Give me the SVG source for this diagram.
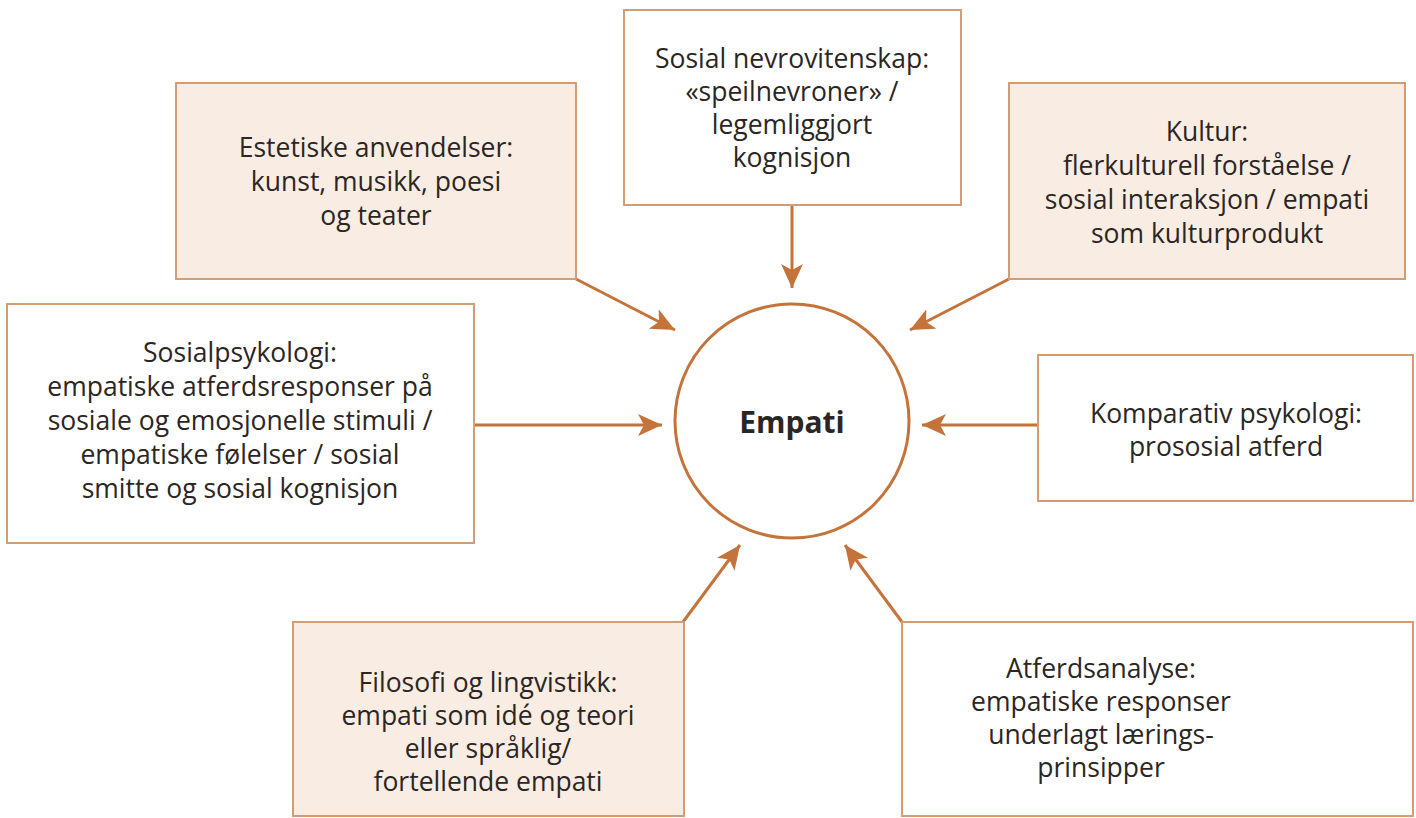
<svg xmlns="http://www.w3.org/2000/svg" width="1416" height="818" viewBox="0 0 1416 818">
<defs>
<style>
.box{stroke:#d29c74;stroke-width:2}
.beige{fill:#f9ede3}
.white{fill:#ffffff}
.t{font-family:"Open Sans","Liberation Sans",sans-serif;font-size:26.5px;fill:#2b2623;text-anchor:middle}
.c{stroke:#c4733a;stroke-width:3;fill:none}
</style>
<marker id="ah" markerUnits="userSpaceOnUse" markerWidth="26" markerHeight="22" refX="24" refY="11" orient="auto">
<path d="M0,0 L24,11 L0,22 L6,11 z" fill="#c4733a"/>
</marker>
</defs>
<rect width="1416" height="818" fill="#ffffff"/>
<g id="connectors">
<line class="c" x1="792" y1="205" x2="792" y2="288" marker-end="url(#ah)"/>
<line class="c" x1="576" y1="279" x2="675" y2="330" marker-end="url(#ah)"/>
<line class="c" x1="1009" y1="279" x2="910" y2="330" marker-end="url(#ah)"/>
<line class="c" x1="474" y1="425" x2="662" y2="425" marker-end="url(#ah)"/>
<line class="c" x1="1038" y1="425" x2="922" y2="425" marker-end="url(#ah)"/>
<line class="c" x1="683" y1="622" x2="740" y2="545" marker-end="url(#ah)"/>
<line class="c" x1="902" y1="622" x2="845" y2="545" marker-end="url(#ah)"/>
</g>
<g id="empati">
<circle cx="792" cy="421" r="117" fill="#ffffff" stroke="#c4733a" stroke-width="3"/>
<text x="792" y="433" style="font-family:'Open Sans','Liberation Sans',sans-serif;font-size:30px;font-weight:bold;fill:#2b2623;text-anchor:middle">Empati</text>
</g>
<g id="estetiske">
<rect class="box beige" x="176" y="83" width="400" height="196"/>
<text class="t" x="376" y="157">Estetiske anvendelser:</text>
<text class="t" x="376" y="191">kunst, musikk, poesi</text>
<text class="t" x="376" y="225">og teater</text>
</g>
<g id="nevro">
<rect class="box white" x="624" y="10" width="337" height="195"/>
<text class="t" x="792" y="68">Sosial nevrovitenskap:</text>
<text class="t" x="792" y="101">«speilnevroner» /</text>
<text class="t" x="792" y="134">legemliggjort</text>
<text class="t" x="792" y="167">kognisjon</text>
</g>
<g id="kultur">
<rect class="box beige" x="1009" y="83" width="396" height="196"/>
<text class="t" x="1207" y="141">Kultur:</text>
<text class="t" x="1207" y="175">flerkulturell forståelse /</text>
<text class="t" x="1207" y="209">sosial interaksjon / empati</text>
<text class="t" x="1207" y="243">som kulturprodukt</text>
</g>
<g id="sosialpsykologi">
<rect class="box white" x="7" y="304" width="467" height="239"/>
<text class="t" x="240" y="362">Sosialpsykologi:</text>
<text class="t" x="240" y="396">empatiske atferdsresponser på</text>
<text class="t" x="240" y="430">sosiale og emosjonelle stimuli /</text>
<text class="t" x="240" y="464">empatiske følelser / sosial</text>
<text class="t" x="240" y="498">smitte og sosial kognisjon</text>
</g>
<g id="komparativ">
<rect class="box white" x="1038" y="355" width="375" height="146"/>
<text class="t" x="1226" y="423">Komparativ psykologi:</text>
<text class="t" x="1226" y="456">prososial atferd</text>
</g>
<g id="filosofi">
<rect class="box beige" x="293" y="622" width="391" height="194"/>
<text class="t" x="488" y="692">Filosofi og lingvistikk:</text>
<text class="t" x="488" y="725">empati som idé og teori</text>
<text class="t" x="488" y="758">eller språklig/</text>
<text class="t" x="488" y="791">fortellende empati</text>
</g>
<g id="atferdsanalyse">
<rect class="box white" x="902" y="622" width="511" height="194"/>
<text class="t" x="1101" y="678">Atferdsanalyse:</text>
<text class="t" x="1101" y="711">empatiske responser</text>
<text class="t" x="1101" y="744">underlagt lærings-</text>
<text class="t" x="1101" y="777">prinsipper</text>
</g>
</svg>
